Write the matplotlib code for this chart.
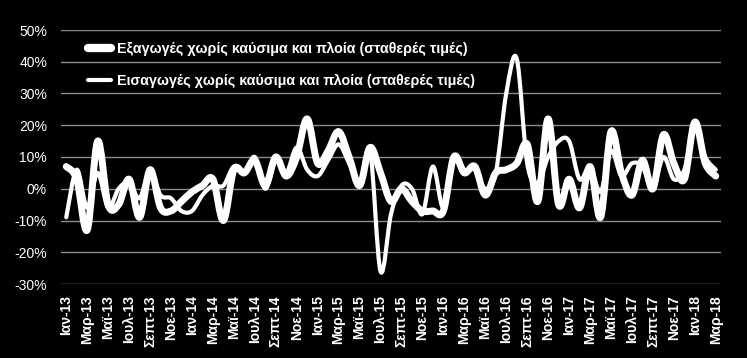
import matplotlib
matplotlib.use("Agg")
import matplotlib.pyplot as plt
import numpy as np
from matplotlib.path import Path
from matplotlib.patches import PathPatch
from matplotlib.lines import Line2D

months_gr = ["Ιαν", "Φεβ", "Μαρ", "Απρ", "Μαϊ", "Ιουν", "Ιουλ", "Αυγ", "Σεπτ", "Οκτ", "Νοε", "Δεκ"]
categories = [f"{m}-{y}" for y in range(13, 19) for m in months_gr][:63]

exports = [7, 3, -13, 15, -5, -5, 3, -9, 6, -6,
           -7, -4, -1, 1, 3, -10, 6, 5, 9, 1,
           10, 4, 10, 22, 8, 12, 18, 10, 1, 13,
           5, -4, 0, -4, -7, -7, -7, 10, 5, 7,
           -2, 5, 6, 8, 14, -4, 22, -5, 3, -6,
           7, -9, 18, 5, -2, 9, 0, 17, 8, 3,
           21, 8, 4]
imports = [-9, 6, -6, 5, -6, 0, 2, -3, 6, -2,
           -3, -7, -7, -2, 1, 1, 7, 5, 10, 0,
           9, 5, 13, 6, 4, 9, 14, 8, 1, 12,
           -26, -8, 1, 0, -8, 7, -6, 10, 6, 6,
           0, 5, 30, 41, 8, 2, 10, 15, 15, 3,
           7, -1, 12, 4, 8, 7, 0, 10, 3, 6,
           20, 10, 6]

label_exp = "Εξαγωγές χωρίς καύσιμα και πλοία (σταθερές τιμές)"
label_imp = "Εισαγωγές χωρίς καύσιμα και πλοία (σταθερές τιμές)"
yticks = [-30, -20, -10, 0, 10, 20, 30, 40, 50]

plt.rcParams['font.family'] = ['Liberation Sans', 'DejaVu Sans']

def smooth_path(y):
    x = np.arange(len(y), dtype=float)
    y = np.asarray(y, dtype=float)
    verts = [(x[0], y[0])]
    codes = [Path.MOVETO]
    n = len(y)
    for i in range(n - 1):
        p0 = np.array([x[max(i - 1, 0)], y[max(i - 1, 0)]])
        p1 = np.array([x[i], y[i]])
        p2 = np.array([x[i + 1], y[i + 1]])
        p3 = np.array([x[min(i + 2, n - 1)], y[min(i + 2, n - 1)]])
        c1 = p1 + (p2 - p0) / 6.0
        c2 = p2 - (p3 - p1) / 6.0
        verts += [tuple(c1), tuple(c2), tuple(p2)]
        codes += [Path.CURVE4, Path.CURVE4, Path.CURVE4]
    return Path(verts, codes)

fig = plt.figure(figsize=(7.47, 3.58), dpi=100, facecolor="black")
ax = fig.add_axes([61 / 747, 1 - 284 / 358, 660 / 747, 254 / 358])
ax.set_facecolor("black")

for yv in yticks:
    ax.axhline(yv, color="#8c8c8c", lw=1.0, zorder=1)

lw_thick = 5.0
lw_thin = 3.0
ax.add_patch(PathPatch(smooth_path(exports), fill=False, edgecolor="white",
                       lw=lw_thick, capstyle="round", joinstyle="round", zorder=3))
ax.add_patch(PathPatch(smooth_path(imports), fill=False, edgecolor="white",
                       lw=lw_thin, capstyle="round", joinstyle="round", zorder=4))

ax.set_xlim(-0.5, len(categories) - 0.5)
ax.set_ylim(-30, 50)
ax.set_yticks(yticks)
ax.set_yticklabels([f"{v}%" for v in yticks], color="white", fontsize=10)
xt = list(range(0, len(categories), 2))
ax.set_xticks(xt)
ax.set_xticklabels([categories[i] for i in xt], rotation=90, color="white",
                   fontsize=10, fontweight="bold")
ax.tick_params(axis="both", length=0)
ax.tick_params(axis="x", pad=8)
ax.tick_params(axis="y", pad=10)
for s in ax.spines.values():
    s.set_visible(False)

handles = [Line2D([], [], color="white", lw=lw_thick + 1.0, solid_capstyle="round"),
           Line2D([], [], color="white", lw=lw_thin, solid_capstyle="round")]
leg = ax.legend(handles, [label_exp, label_imp], loc="upper left",
                bbox_to_anchor=(0.021, 1.005), frameon=False, handlelength=1.65,
                handletextpad=0.4, labelspacing=1.3,
                prop={"size": 10.3, "weight": "bold"})
for t in leg.get_texts():
    t.set_color("white")

fig.savefig("out.png", dpi=100, facecolor="black")
